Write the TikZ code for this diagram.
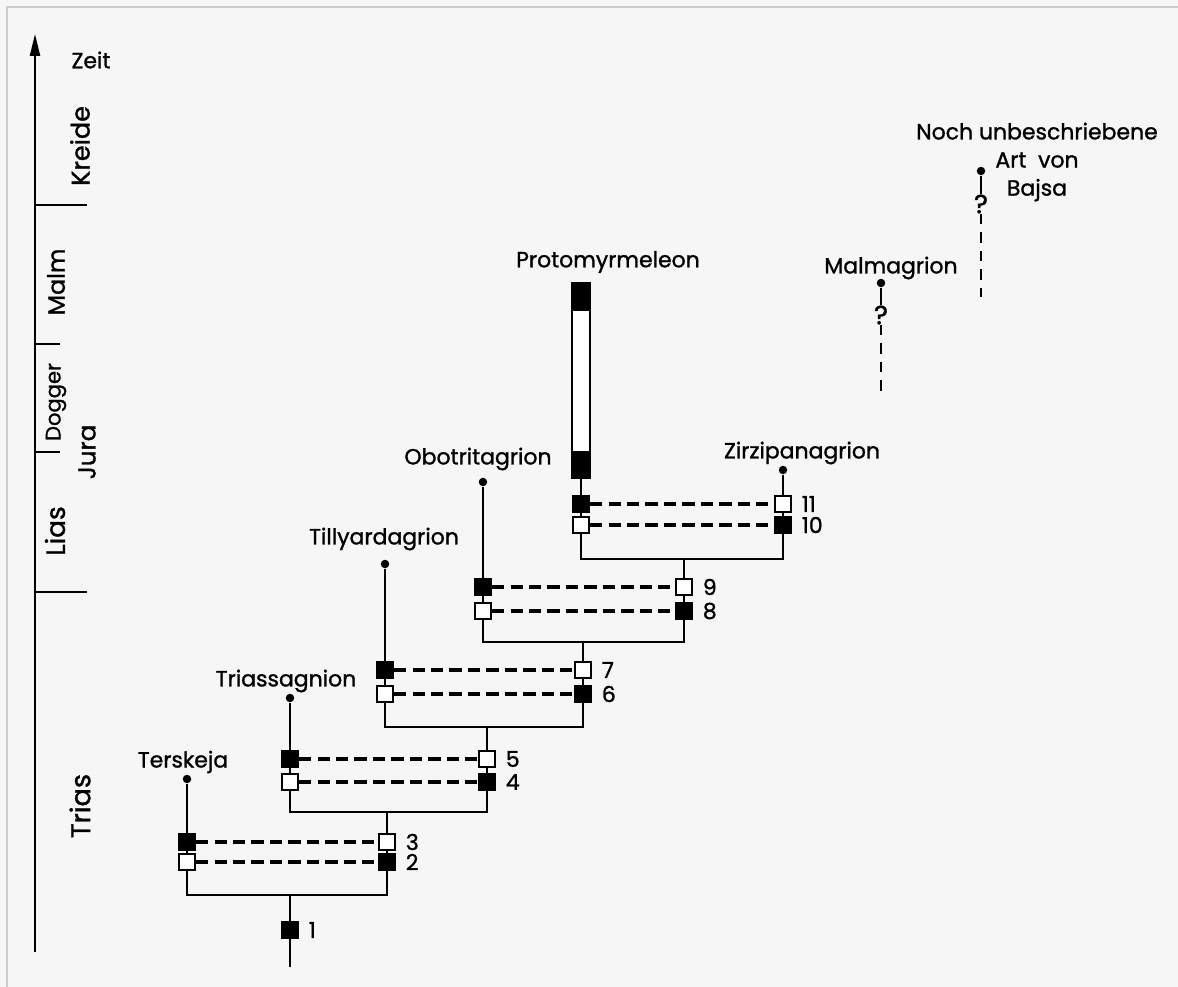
\documentclass[tikz,border=0pt]{standalone}
\usepackage{fontspec}
\setmainfont{Poppins}
\newfontfamily\stencil{Poppins}[FakeBold=1.2]
\usetikzlibrary{arrows.meta, positioning, calc}
\definecolor{paper}{HTML}{F6F6F6}

\begin{document}
\begin{tikzpicture}[x=0.02cm, y=-0.02cm,
    every node/.style={font=\stencil\fontsize{12.5}{16}\selectfont},
    full/.style={draw, fill=black, minimum size=0.32cm, inner sep=0pt, line width=1.3pt},
    hollow/.style={full, fill=white},
    tip/.style={circle, fill=black, minimum size=0.17cm, inner sep=0pt},
    branch/.style={line width=1.35pt},
    link/.style={line width=1.9pt, dash pattern=on 7pt off 3.5pt},
    query/.style={line width=1.6pt, dash pattern=on 6pt off 4.5pt},
    qmark/.style={font=\stencil\fontsize{15}{16}\selectfont, inner sep=0pt}]
  \fill[paper] (0,0) rectangle (1178,987);
  \useasboundingbox (0,0) rectangle (1178,987);
  \draw[black!20, line width=1pt] (7,987) -- (7,7) -- (1178,7);

  \coordinate (tbot) at (35,952);
  \coordinate (ttop) at (35,34);
  \draw[line width=1.4pt, -{Triangle[length=0.44cm, width=0.2cm]}] (tbot) -- (ttop);
  \foreach \y/\l in {205/52, 344/25, 452/25, 592/52}
    \draw[line width=1.4pt] (35,\y) -- ++(\l,0);
  \node (zeit) at (91,60) {Zeit};
  \foreach \x/\y/\s/\era in {80/146/14.5/Kreide, 56/282/13.5/Malm, 56/402/12/Dogger, 87/452/14/Jura, 55/531/15/Lias, 80/806/15.5/Trias}
    \node[rotate=90, font=\stencil\fontsize{\s}{16}\selectfont] (\era) at (\x,\y) {\era};

  \foreach \i/\xl/\xr/\yt/\yb/\yj in {1/187/387/842/862/895, 2/290/487/759/782/812, 3/385/583/670/694/727, 4/483/684/587/611/642, 5/581/783/504/525/559} {
    \pgfmathtruncatemacro\lo{2*\i}
    \pgfmathtruncatemacro\hi{2*\i+1}
    \coordinate (bar\i) at ({(\xl+\xr)/2},\yj);
    \node[full] (tl\i) at (\xl,\yt) {};
    \node[hollow] (bl\i) at (\xl,\yb) {};
    \node[hollow, label={[label distance=2pt]right:\hi}] (tr\i) at (\xr,\yt) {};
    \node[full, label={[label distance=2pt]right:\lo}] (br\i) at (\xr,\yb) {};
    \draw[branch] (tl\i) -- (bl\i) |- (bar\i) -| (br\i) -- (tr\i);
    \draw[link] (tl\i) -- (tr\i);
    \draw[link] (bl\i) -- (br\i);
  }
  \foreach \i/\j in {1/2, 2/3, 3/4, 4/5}
    \draw[branch] (tr\i) -- (tr\i |- bar\j);

  \node[full, label={[label distance=2pt]right:1}] (sq1) at (290,930) {};
  \coordinate (root) at (290,967);
  \draw[branch] (sq1 |- bar1) -- (sq1) -- (root);

  \foreach \i/\x/\yd/\lx/\ly/\tx in {1/187/779/183/762/Terskeja, 2/290/698/286/681/Triassagnion, 3/385/564/384/539/Tillyardagrion, 4/483/482/478/459/Obotritagrion} {
    \node[tip] (dot\i) at (\x,\yd) {};
    \node (taxon\i) at (\lx,\ly) {\tx};
    \draw[branch] (tl\i) -- (dot\i);
  }

  \node[tip] (zirzdot) at (783,470) {};
  \node (zirz) at (802,453) {Zirzipanagrion};
  \draw[branch] (tr5) -- (zirzdot);

  \node[draw, fill=white, minimum width=0.36cm, minimum height=3.9cm, inner sep=0pt, line width=1.2pt] (proto) at (581,380.5) {};
  \fill (proto.north west) rectangle ($(proto.north east)+(0,29)$);
  \fill (proto.south west) rectangle ($(proto.south east)+(0,-28)$);
  \node (protoname) at (608,262) {Protomyrmeleon};
  \draw[branch] (tl5) -- (proto);

  \node[tip] (malmdot) at (881,283) {};
  \node[qmark] (malmq) at (881,315) {?};
  \coordinate (malmend) at (881,395);
  \node (malm) at (891,268) {Malmagrion};
  \draw[branch] (malmdot) -- (malmq);
  \draw[query] (malmq) -- (malmend);

  \node[tip] (bajsadot) at (981,171) {};
  \node[qmark] (bajsaq) at (981,204) {?};
  \coordinate (bajsaend) at (981,297);
  \node[align=center] (bajsa) at (1037,162) {Noch unbeschriebene\\Art~~von\\Bajsa};
  \draw[branch] (bajsadot) -- (bajsaq);
  \draw[query] (bajsaq) -- (bajsaend);
\end{tikzpicture}
\end{document}
